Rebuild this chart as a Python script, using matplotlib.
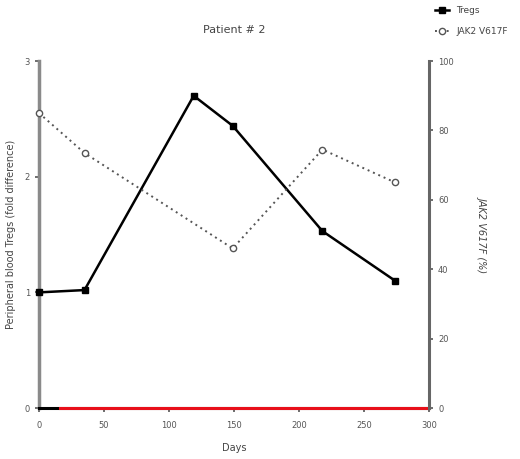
import matplotlib
matplotlib.use("Agg")
import matplotlib.pyplot as plt
from matplotlib.lines import Line2D

# ─── data ─────────────────────────────────────────────────────────────────────
days_tregs = [0, 35, 119, 149, 218, 274]
tregs = [1.00, 1.02, 2.70, 2.44, 1.53, 1.10]

days_jak2 = [0, 35, 149, 218, 274]
jak2 = [85, 73.5, 46, 74.5, 65]

baseline_days = [16, 300]
baseline_vals = [0, 0]

fig = plt.figure(figsize=(5.2, 4.59), dpi=100)
ax = fig.add_axes([0.075, 0.111, 0.75, 0.756])
ax2 = ax.twinx()

# Tregs (left axis)
ax.plot(days_tregs, tregs, color="black", lw=1.8, marker="s", ms=4.5,
        zorder=3, clip_on=False)
ax.plot(baseline_days, baseline_vals, color="#e8101a", lw=2.2,
        zorder=4, clip_on=False)
ax.set_xlim(0, 300)
ax.set_ylim(0, 3)
ax.set_xticks([0, 50, 100, 150, 200, 250, 300])
ax.set_yticks([0, 1, 2, 3])
ax.set_xlabel("Days", fontsize=7, color="#444444", labelpad=10)
ax.set_ylabel("Peripheral blood Tregs (fold difference)", fontsize=7,
              color="#444444", labelpad=6)

# JAK2 V617F (right axis)
ax2.plot(days_jak2, jak2, color="#555555", lw=1.4, ls=(0, (1, 2)),
         marker="o", ms=4.5, mfc="white", mec="#555555", mew=1.0,
         zorder=3, clip_on=False)
ax2.set_ylim(0, 100)
ax2.set_yticks([0, 20, 40, 60, 80, 100])
ax2.set_ylabel("JAK2 V617F (%)", fontsize=7, color="#444444",
               style="italic", rotation=270, labelpad=24)

for a in (ax, ax2):
    a.spines["top"].set_visible(False)
    a.tick_params(labelsize=6, colors="#555555", length=3, width=1.2)
ax.spines["right"].set_visible(False)
ax2.spines["left"].set_visible(False)
ax2.spines["bottom"].set_visible(False)
ax.spines["left"].set_color("#8a8a8a")
ax.spines["left"].set_linewidth(2.5)
ax.spines["bottom"].set_color("black")
ax.spines["bottom"].set_linewidth(2.2)
ax2.spines["right"].set_color("#666666")
ax2.spines["right"].set_linewidth(2.2)
ax.tick_params(axis="x", pad=6)

ax.set_title("Patient # 2", fontsize=8, color="#444444", pad=20)

handles = [
    Line2D([], [], color="black", lw=1.8, marker="s", ms=4.5),
    Line2D([], [], color="#555555", lw=1.4, ls=(0, (1, 2)), marker="o", ms=4.5,
           mfc="white", mec="#555555"),
]
fig.legend(handles, ["Tregs", "JAK2 V617F"], loc="upper left",
           bbox_to_anchor=(0.82, 1.005), frameon=False, fontsize=6.5,
           handlelength=1.6, labelcolor="#444444", labelspacing=1.4)

fig.savefig("out.png", dpi=100)
